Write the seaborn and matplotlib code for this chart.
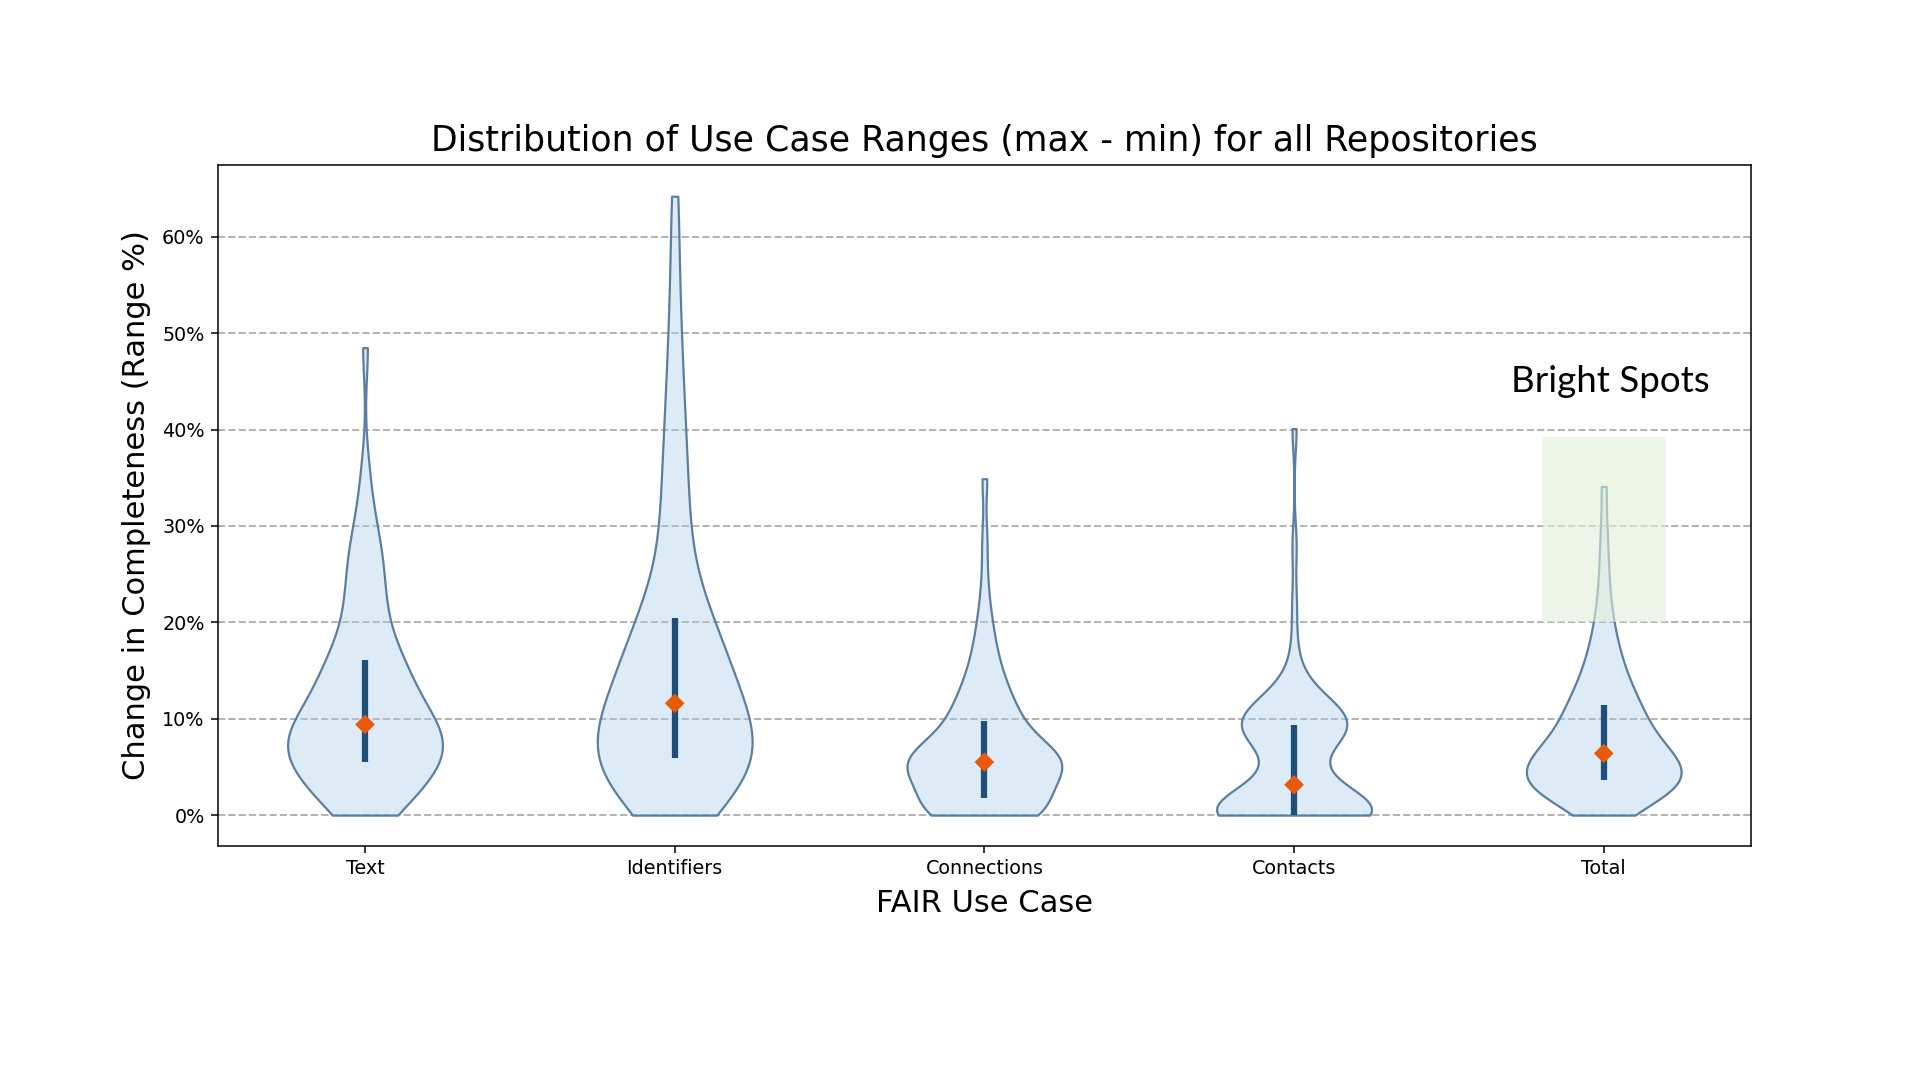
import numpy as np
import pandas as pd
import matplotlib
matplotlib.use("Agg")
import matplotlib.pyplot as plt
import seaborn as sns
from matplotlib.patches import Rectangle
from matplotlib.ticker import PercentFormatter

# ---------------- data (range %, per repository) ----------------
categories = ["Text", "Identifiers", "Connections", "Contacts", "Total"]

text_ranges = [
    0.0, 0.0, 0.4, 0.8, 1.2, 1.5, 1.9, 2.2, 2.5, 2.8, 3.1, 3.4, 3.7, 4.0, 4.3, 4.6, 4.8, 5.0, 5.2, 5.4,
    5.6, 5.9, 6.2, 6.4, 6.6, 6.8, 7.0, 7.15, 7.3, 7.45, 7.6, 7.75, 7.9, 8.05, 8.2, 8.4, 8.6, 8.8, 9.05, 9.3,
    9.5, 9.8, 10.1, 10.4, 10.7, 11.0, 11.3, 11.7, 12.0, 12.4, 12.7, 13.1, 13.4, 13.8, 14.2, 14.6, 15.0, 15.4, 15.7, 16.0,
    16.3, 16.9, 17.6, 18.3, 19.0, 19.8, 20.6, 21.5, 22.4, 23.3, 24.2, 25.1, 26.0, 26.9, 27.9, 29.0, 30.5, 32.5, 36.0, 48.5,
]
identifiers_ranges = [
    0.0, 0.4, 0.8, 1.2, 1.6, 2.0, 2.3, 2.6, 2.9, 3.2, 3.5, 3.8, 4.0, 4.3, 4.6, 4.8, 5.1, 5.3, 5.5, 5.8,
    6.0, 6.2, 6.4, 6.6, 6.8, 7.0, 7.2, 7.4, 7.7, 8.0, 8.3, 8.7, 9.1, 9.5, 9.9, 10.3, 10.7, 11.0, 11.3, 11.5,
    11.7, 12.1, 12.5, 12.9, 13.3, 13.7, 14.1, 14.5, 14.9, 15.4, 15.8, 16.3, 16.8, 17.3, 17.8, 18.3, 18.8, 19.3, 19.8, 20.3,
    20.8, 21.5, 22.4, 23.5, 24.8, 26.3, 27.8, 29.4, 31.0, 32.7, 34.5, 36.4, 38.4, 40.6, 43.0, 45.8, 49.0, 53.0, 58.0, 64.2,
]
connections_ranges = [
    0.0, 0.0, 0.0, 0.0, 0.0, 0.0, 0.0, 0.0, 0.0, 0.0, 0.0, 0.3, 0.5, 0.7, 0.9, 1.1, 1.3, 1.4, 1.6, 1.7,
    1.8, 2.2, 2.7, 3.2, 3.6, 3.9, 4.2, 4.4, 4.6, 4.7, 4.8, 4.9, 5.0, 5.1, 5.15, 5.2, 5.25, 5.3, 5.35, 5.4,
    5.6, 5.65, 5.7, 5.75, 5.8, 5.9, 6.0, 6.1, 6.3, 6.5, 6.7, 7.0, 7.3, 7.7, 8.1, 8.5, 8.9, 9.2, 9.5, 9.7,
    9.9, 10.2, 10.6, 11.0, 11.4, 11.8, 12.3, 12.8, 13.3, 13.9, 14.5, 15.2, 16.0, 17.0, 18.2, 19.5, 21.0, 24.0, 28.5, 34.9,
]
contacts_ranges = [
    0.0, 0.0, 0.0, 0.0, 0.0, 0.0, 0.0, 0.0, 0.0, 0.0, 0.0, 0.0, 0.0, 0.0, 0.0, 0.0, 0.0, 0.0, 0.0, 0.0,
    0.0, 0.0, 0.0, 0.0, 0.0, 0.0, 0.0, 0.0, 0.3, 0.6, 0.9, 1.2, 1.5, 1.8, 2.1, 2.4, 2.6, 2.8, 3.0, 3.1,
    3.2, 3.8, 4.6, 5.5, 6.3, 6.9, 7.4, 7.8, 8.1, 8.3, 8.5, 8.7, 8.8, 8.9, 9.0, 9.1, 9.2, 9.3, 9.35, 9.4,
    9.4, 9.6, 9.8, 10.0, 10.2, 10.4, 10.6, 10.8, 11.0, 11.2, 11.5, 11.8, 12.2, 12.7, 13.4, 14.6, 17.5, 22.0, 28.0, 40.1,
]
total_ranges = [
    0.0, 0.4, 0.8, 1.1, 1.4, 1.7, 1.9, 2.1, 2.3, 2.5, 2.6, 2.7, 2.8, 2.9, 3.0, 3.1, 3.2, 3.3, 3.4, 3.5,
    3.7, 3.8, 3.9, 4.0, 4.1, 4.2, 4.4, 4.5, 4.7, 4.8, 5.0, 5.2, 5.3, 5.5, 5.7, 5.8, 6.0, 6.1, 6.2, 6.3,
    6.5, 6.7, 6.9, 7.1, 7.3, 7.5, 7.8, 8.0, 8.3, 8.5, 8.8, 9.1, 9.4, 9.7, 10.0, 10.3, 10.6, 10.9, 11.1, 11.3,
    11.6, 12.0, 12.4, 12.8, 13.2, 13.7, 14.2, 14.7, 15.3, 15.9, 16.6, 17.3, 18.2, 19.2, 20.5, 22.0, 24.0, 26.5, 29.5, 34.1,
]
y_ticks = [0, 10, 20, 30, 40, 50, 60]

series = [text_ranges, identifiers_ranges, connections_ranges, contacts_ranges, total_ranges]
df = pd.DataFrame({
    "use_case": np.concatenate([[c] * len(s) for c, s in zip(categories, series)]),
    "range_pct": np.concatenate([np.asarray(s, dtype=float) for s in series]),
})

# ---------------- styling ----------------
FILL_RGB = (0.659, 0.804, 0.910)
EDGE = "#5a7fa3"
BOX = "#1f4e79"
MEDIAN = "#e8590c"

fig = plt.figure(figsize=(19.2, 10.8), dpi=100)
ax = fig.add_axes([0.1135, 0.2167, 0.7984, 0.6306])

sns.violinplot(
    data=df, x="use_case", y="range_pct", order=categories,
    cut=0, density_norm="width", width=0.5, inner=None, bw_adjust=0.8,
    color=FILL_RGB, saturation=1, linewidth=1.6, linecolor=EDGE, ax=ax,
)
for coll in ax.collections:
    coll.set_facecolor((*FILL_RGB, 0.4))
    coll.set_edgecolor(EDGE)
    coll.set_linewidth(1.6)

for i, cat in enumerate(categories):
    vals = df.loc[df["use_case"] == cat, "range_pct"].to_numpy()
    q1, med, q3 = np.percentile(vals, [25, 50, 75])
    ax.vlines(i, q1, q3, color=BOX, linewidth=4.5, zorder=3)
    ax.scatter([i], [med], marker="D", s=100, color=MEDIAN, edgecolors="none", zorder=4)

# highlight box + annotation
ax.add_patch(Rectangle((3.8, 20.0), 0.4, 19.2, facecolor="#e2efda", edgecolor="none",
                       alpha=0.6, zorder=5))
ax.text(4.02, 45.0, "Bright Spots", fontsize=26.5, family=["Lato", "DejaVu Sans"],
        ha="center", va="center", color="black", zorder=6)

ax.set_xlim(-0.475, 4.475)
ax.set_ylim(-3.2, 67.45)
ax.set_yticks(y_ticks)
ax.yaxis.set_major_formatter(PercentFormatter(xmax=100, decimals=0))
ax.yaxis.grid(True, linestyle="--", color="gray", alpha=0.6, linewidth=1.4)
ax.set_axisbelow(True)

ax.set_title("Distribution of Use Case Ranges (max - min) for all Repositories",
             fontsize=25, pad=10)
ax.set_xlabel("FAIR Use Case", fontsize=22, labelpad=8)
ax.set_ylabel("Change in Completeness (Range %)", fontsize=22, labelpad=8)
ax.tick_params(labelsize=13.8, length=4.8, width=1.1, pad=4.8)
for sp in ax.spines.values():
    sp.set_linewidth(1.1)
    sp.set_visible(True)

fig.savefig("out.png", dpi=100)
